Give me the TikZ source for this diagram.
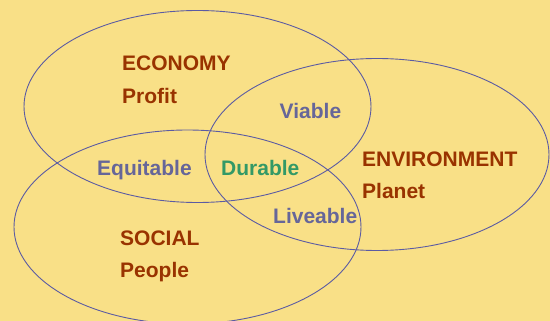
\documentclass[tikz,border=0pt]{standalone}
\usepackage{fontspec}
\setmainfont{Liberation Sans}
\definecolor{bg}{HTML}{F9E087}
\definecolor{ring}{HTML}{5B5BA3}
\definecolor{brownt}{HTML}{993300}
\definecolor{bluet}{HTML}{666699}
\definecolor{greent}{HTML}{339966}
\tikzset{
  lbl/.style={anchor=base west, inner sep=0pt, font=\fontsize{21}{21}\selectfont\bfseries},
  main/.style={lbl, text=brownt},
  mix/.style={lbl, text=bluet},
  core/.style={lbl, text=greent},
  ringline/.style={draw=ring, line width=0.9pt}
}
\begin{document}
\begin{tikzpicture}[x=1pt,y=-1pt]
\fill[bg] (0,0) rectangle (550,321);
\useasboundingbox (0,0) rectangle (550,321);
\begin{scope}
\clip (0,0) rectangle (550,321);
\draw[ringline] (197.5,106.5) ellipse [x radius=173.5, y radius=96];
\draw[ringline] (377,154.5) ellipse [x radius=172, y radius=96];
\draw[ringline] (187.5,227) ellipse [x radius=173.5, y radius=97];
\end{scope}
\node[main] (eco) at (122,71) {ECONOMY};
\node[main] (profit) at (122,103.5) {Profit};
\node[mix] (viable) at (279.5,119) {Viable};
\node[mix] (equit) at (97,175.5) {Equitable};
\node[core] (dur) at (221,175.5) {Durable};
\node[main] (env) at (362,166.5) {ENVIRONMENT};
\node[main] (planet) at (362,199) {Planet};
\node[mix] (live) at (273,224) {Liveable};
\node[main] (soc) at (120,245) {SOCIAL};
\node[main] (people) at (120,277.5) {People};
\end{tikzpicture}
\end{document}
